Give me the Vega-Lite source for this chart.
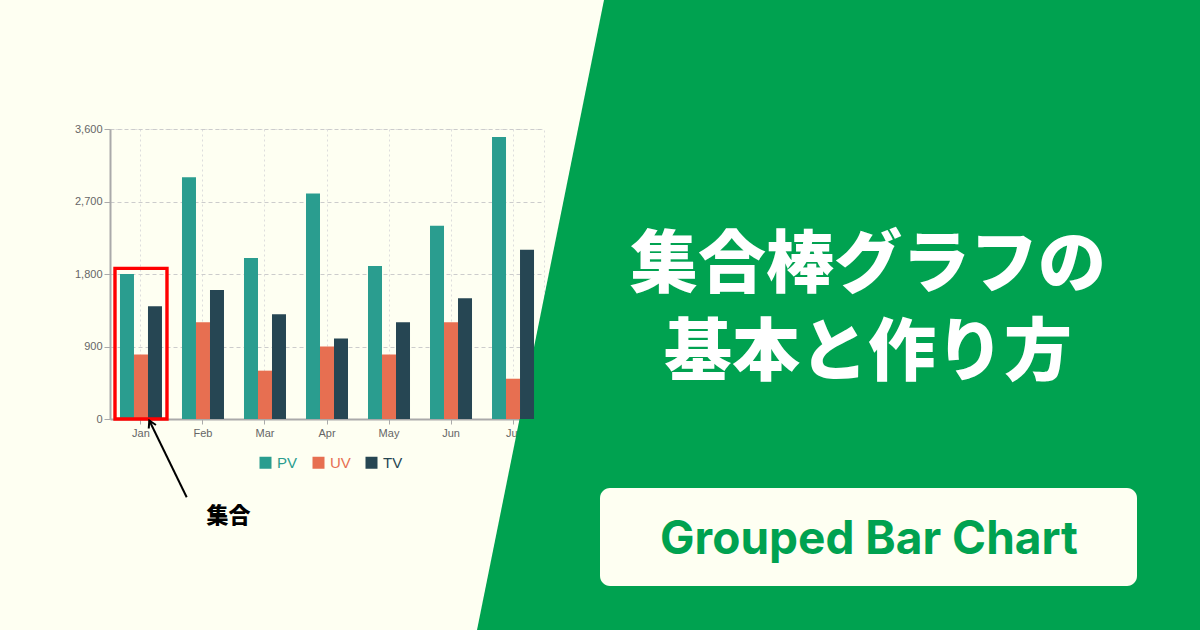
{
  "$schema": "https://vega.github.io/schema/vega-lite/v6.json",
  "autosize": "none",
  "width": 434,
  "height": 290,
  "padding": {"left": 110, "top": 129, "right": 656, "bottom": 211},
  "background": "#FEFFF2",
  "config": {
    "view": {"stroke": "#dddddd", "strokeDash": [2, 3]},
    "font": "Liberation Sans"
  },
  "resolve": {"scale": {"x": "independent", "y": "independent"}},
  "layer": [
    {
      "data": {"values": [
        {"py": 0, "px": 604, "px2": 1200},
        {"py": 630, "px": 477, "px2": 1200}
      ]},
      "mark": {"type": "area", "orient": "horizontal", "color": "#00A250", "clip": false},
      "encoding": {
        "y": {"field": "py", "type": "quantitative", "scale": {"domain": [129, 419], "reverse": true, "zero": false, "nice": false}, "axis": null},
        "x": {"field": "px", "type": "quantitative", "scale": {"domain": [110, 544], "zero": false, "nice": false}, "axis": null},
        "x2": {"field": "px2"}
      }
    },
    {
      "data": {"values": [{"px": 600, "px2": 1137, "py": 488, "py2": 586}]},
      "mark": {"type": "rect", "color": "#FEFFF2", "cornerRadius": 10, "clip": false},
      "encoding": {
        "x": {"field": "px", "type": "quantitative", "scale": {"domain": [110, 544], "zero": false, "nice": false}, "axis": null},
        "x2": {"field": "px2"},
        "y": {"field": "py", "type": "quantitative", "scale": {"domain": [129, 419], "reverse": true, "zero": false, "nice": false}, "axis": null},
        "y2": {"field": "py2"}
      }
    },
    {
      "data": {"values": [
        {"px": 868, "py": 267, "t": "集合棒グラフの\n基本と作り方"}
      ]},
      "mark": {"type": "text", "font": "Noto Sans CJK JP", "fontWeight": 900, "fontSize": 68, "lineBreak": "\n", "lineHeight": 88, "color": "#ffffff", "align": "center", "baseline": "middle", "clip": false},
      "encoding": {
        "x": {"field": "px", "type": "quantitative", "scale": {"domain": [110, 544], "zero": false, "nice": false}, "axis": null},
        "y": {"field": "py", "type": "quantitative", "scale": {"domain": [129, 419], "reverse": true, "zero": false, "nice": false}, "axis": null},
        "text": {"field": "t"}
      }
    },
    {
      "data": {"values": [{"px": 869, "py": 540, "t": "Grouped Bar Chart"}]},
      "mark": {"type": "text", "font": "Inter", "fontWeight": 700, "fontSize": 46, "color": "#00A250", "align": "center", "baseline": "middle", "clip": false},
      "encoding": {
        "x": {"field": "px", "type": "quantitative", "scale": {"domain": [110, 544], "zero": false, "nice": false}, "axis": null},
        "y": {"field": "py", "type": "quantitative", "scale": {"domain": [129, 419], "reverse": true, "zero": false, "nice": false}, "axis": null},
        "text": {"field": "t"}
      }
    },
    {
      "data": {"values": [
        {"month": "Jan", "series": "PV", "value": 1800},
        {"month": "Jan", "series": "UV", "value": 800},
        {"month": "Jan", "series": "TV", "value": 1400},
        {"month": "Feb", "series": "PV", "value": 3000},
        {"month": "Feb", "series": "UV", "value": 1200},
        {"month": "Feb", "series": "TV", "value": 1600},
        {"month": "Mar", "series": "PV", "value": 2000},
        {"month": "Mar", "series": "UV", "value": 600},
        {"month": "Mar", "series": "TV", "value": 1300},
        {"month": "Apr", "series": "PV", "value": 2800},
        {"month": "Apr", "series": "UV", "value": 900},
        {"month": "Apr", "series": "TV", "value": 1000},
        {"month": "May", "series": "PV", "value": 1900},
        {"month": "May", "series": "UV", "value": 800},
        {"month": "May", "series": "TV", "value": 1200},
        {"month": "Jun", "series": "PV", "value": 2400},
        {"month": "Jun", "series": "UV", "value": 1200},
        {"month": "Jun", "series": "TV", "value": 1500},
        {"month": "Jul", "series": "PV", "value": 3500},
        {"month": "Jul", "series": "UV", "value": 500},
        {"month": "Jul", "series": "TV", "value": 2100}
      ]},
      "layer": [
        {
          "mark": {"type": "bar"},
          "encoding": {
            "x": {
              "field": "month", "type": "nominal",
              "scale": {"domain": ["Jan", "Feb", "Mar", "Apr", "May", "Jun", "Jul"], "paddingInner": 0.3226, "paddingOuter": 0.161},
              "axis": {
                "orient": "bottom", "title": null, "labelAngle": 0, "bandPosition": 0.5,
                "labelColor": "#666666", "labelFontSize": 11, "labelPadding": 3,
                "tickColor": "#aaaaaa", "tickSize": 5, "domainColor": "#aaaaaa", "domainWidth": 2,
                "grid": true, "gridColor": "#dddddd", "gridDash": [2, 3]
              }
            },
            "xOffset": {"field": "series", "type": "nominal", "scale": {"domain": ["PV", "UV", "TV"], "paddingInner": 0, "paddingOuter": 0}},
            "y": {
              "field": "value", "type": "quantitative",
              "scale": {"domain": [0, 3600], "nice": false},
              "axis": {
                "orient": "left", "title": null, "values": [0, 900, 1800, 2700, 3600], "format": ",d",
                "labelColor": "#666666", "labelFontSize": 11, "labelPadding": 2,
                "tickColor": "#aaaaaa", "tickSize": 6, "domainColor": "#aaaaaa", "domainWidth": 2,
                "grid": true, "gridColor": "#cccccc", "gridDash": [4, 3]
              }
            },
            "color": {
              "field": "series", "type": "nominal",
              "scale": {"domain": ["PV", "UV", "TV"], "range": ["#2A9D8F", "#E76F51", "#264653"]},
              "legend": {
                "title": null, "orient": "none", "direction": "horizontal",
                "legendX": 148, "legendY": 326,
                "symbolType": "square", "symbolSize": 144, "symbolStrokeWidth": 0,
                "labelFontSize": 15, "labelOffset": 4, "columnPadding": 13,
                "encode": {"labels": {"update": {"fill": {"scale": "color", "field": "value"}}}}
              }
            }
          }
        },
        {
          "data": {"values": [{"month": "Jan", "top": 1870, "bottom": 0}]},
          "mark": {"type": "bar", "width": 52, "fill": "transparent", "stroke": "#FF0000", "strokeWidth": 3.4},
          "encoding": {
            "x": {"field": "month", "type": "nominal"},
            "y": {"field": "top", "type": "quantitative"},
            "y2": {"field": "bottom"}
          }
        }
      ]
    },
    {
      "data": {"values": [
        {"px": 186.7, "py": 497.3},
        {"px": 149.3, "py": 420.5}
      ]},
      "mark": {"type": "line", "color": "#000000", "strokeWidth": 2, "clip": false},
      "encoding": {
        "x": {"field": "px", "type": "quantitative", "scale": {"domain": [110, 544], "zero": false, "nice": false}, "axis": null},
        "y": {"field": "py", "type": "quantitative", "scale": {"domain": [129, 419], "reverse": true, "zero": false, "nice": false}, "axis": null}
      }
    },
    {
      "data": {"values": [{"px": 149.3, "py": 420.5}]},
      "mark": {"type": "point", "shape": "M-0.5,0.87L0,0L0.5,0.87", "size": 256, "angle": 334, "filled": false, "stroke": "#000000", "strokeWidth": 2, "opacity": 1, "clip": false},
      "encoding": {
        "x": {"field": "px", "type": "quantitative", "scale": {"domain": [110, 544], "zero": false, "nice": false}, "axis": null},
        "y": {"field": "py", "type": "quantitative", "scale": {"domain": [129, 419], "reverse": true, "zero": false, "nice": false}, "axis": null}
      }
    },
    {
      "data": {"values": [{"px": 228.5, "py": 516, "t": "集合"}]},
      "mark": {"type": "text", "font": "Noto Sans CJK JP", "fontWeight": 900, "fontSize": 22, "color": "#000000", "align": "center", "baseline": "middle", "clip": false},
      "encoding": {
        "x": {"field": "px", "type": "quantitative", "scale": {"domain": [110, 544], "zero": false, "nice": false}, "axis": null},
        "y": {"field": "py", "type": "quantitative", "scale": {"domain": [129, 419], "reverse": true, "zero": false, "nice": false}, "axis": null},
        "text": {"field": "t"}
      }
    }
  ]
}
